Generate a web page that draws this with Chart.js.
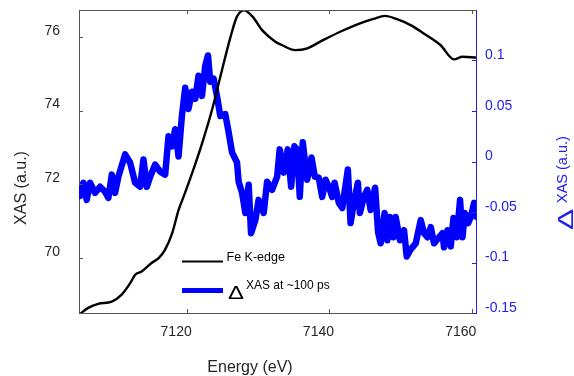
<!DOCTYPE html>
<html>
<head>
<meta charset="utf-8">
<script src="https://cdn.jsdelivr.net/npm/chart.js@4/dist/chart.umd.min.js"></script>
<style>
html,body{margin:0;padding:0;background:#fff;}
#wrap{width:574px;height:376px;position:relative;}
</style>
</head>
<body>
<div id="wrap"><canvas id="c" width="574" height="376"></canvas></div>
<script>
// Fe K-edge XAS (left axis)
const feEnergy = [7104.9,7106.1,7107.5,7109.4,7110.8,7112.0,7112.7,7113.6,7115.0,7116.0,7116.9,7117.9,7118.8,7119.5,7120.7,7122.1,7123.5,7124.9,7126.1,7127.0,7128.0,7129.2,7130.5,7132.4,7133.3,7135.2,7136.9,7138.7,7141.5,7144.3,7146.2,7147.8,7149.5,7151.4,7153.2,7155.6,7157.5,7158.7,7160.6];
const feXAS = [68.47,68.64,68.75,68.81,69.00,69.31,69.54,69.63,69.86,69.99,70.22,70.67,71.30,71.66,72.30,73.11,74.02,75.10,76.00,76.55,76.72,76.55,76.19,75.87,75.78,75.64,75.69,75.87,76.14,76.37,76.49,76.57,76.48,76.32,76.10,75.78,75.39,75.46,75.44];

// Delta XAS at ~100 ps (right axis)
const dEnergy = [7104.94,7105.41,7105.88,7106.35,7107.05,7107.76,7108.46,7108.93,7109.41,7109.87,
7110.34,7111.28,7111.98,7112.69,7113.39,7113.86,7114.34,7114.80,7115.50,7116.21,
7116.91,7117.38,7117.86,7118.32,7118.79,7119.26,7119.73,7120.19,7120.67,7121.14,
7121.60,7122.08,7122.55,7122.93,7123.25,7123.72,7124.19,7124.66,7125.36,7125.83,
7126.31,7127.01,7127.24,7127.72,7128.18,7128.65,7128.98,7129.59,7130.05,7130.76,
7131.24,7131.94,7132.65,7133.01,7133.57,7134.14,7134.62,7135.08,7135.46,7135.83,
7136.25,7136.87,7137.48,7137.94,7138.50,7138.98,7139.45,7139.91,7140.39,7140.72,
7141.32,7141.80,7142.59,7142.97,7143.43,7144.00,7144.28,7144.84,7145.32,7145.79,
7146.42,7146.84,7147.20,7147.76,7148.14,7148.51,7148.98,7149.31,7149.91,7150.48,
7150.86,7151.42,7152.13,7152.83,7153.29,7153.77,7154.24,7154.70,7155.41,7155.88,
7156.11,7156.59,7157.05,7157.43,7157.90,7158.36,7158.70,7159.03,7159.49,7159.87,
7160.33,7160.71];
const dXAS = [-0.034,-0.021,-0.038,-0.021,-0.031,-0.025,-0.030,-0.036,-0.013,-0.031,
-0.015,0.007,-0.001,-0.021,-0.025,0.002,-0.025,-0.015,-0.003,-0.010,
-0.013,0.025,0.015,0.032,0.005,0.045,0.073,0.052,0.069,0.062,
0.085,0.065,0.095,0.105,0.079,0.082,0.065,0.045,0.047,0.029,
0.009,-0.001,-0.020,-0.031,-0.051,-0.023,-0.071,-0.058,-0.038,-0.051,
-0.020,-0.028,-0.015,0.012,-0.011,0.012,-0.025,0.015,0.012,-0.035,
0.019,-0.018,0.004,-0.015,-0.016,-0.035,-0.018,-0.025,-0.035,-0.021,
-0.041,-0.046,-0.008,-0.061,-0.041,-0.021,-0.051,-0.035,-0.028,-0.048,
-0.026,-0.070,-0.081,-0.051,-0.078,-0.055,-0.075,-0.055,-0.078,-0.068,
-0.094,-0.087,-0.081,-0.058,-0.071,-0.075,-0.065,-0.081,-0.075,-0.071,
-0.085,-0.068,-0.084,-0.056,-0.075,-0.038,-0.075,-0.051,-0.061,-0.055,
-0.041,-0.055];

const xTicks = [7120, 7140, 7160];
const leftTicks = [70, 72, 74, 76];
const rightTicks = [-0.15, -0.1, -0.05, 0, 0.05, 0.1];

const FONT = "'Liberation Sans', Arial, Helvetica, sans-serif";
const AX = '#555555';
const BLUE = '#0000ff';
const RBLUE = '#2020f0';

const fePts = feEnergy.map((e, i) => ({x: e, y: feXAS[i]}));
const dPts = dEnergy.map((e, i) => ({x: e, y: dXAS[i]}));

function noPad(s) {
  s.paddingTop = 0; s.paddingBottom = 0; s.paddingLeft = 0; s.paddingRight = 0;
}

const decor = {
  id: 'decor',
  afterDraw(chart) {
    const ctx = chart.ctx;
    const a = chart.chartArea;
    const sx = chart.scales.x, sl = chart.scales.y, sr = chart.scales.y2;
    ctx.save();
    ctx.lineWidth = 1;
    // top border
    ctx.strokeStyle = AX;
    ctx.beginPath();
    ctx.moveTo(a.left, a.top + 0.5); ctx.lineTo(a.right, a.top + 0.5);
    ctx.stroke();
    // x ticks (bottom and top, inward)
    ctx.beginPath();
    xTicks.forEach(v => {
      const px = Math.round(sx.getPixelForValue(v)) + 0.5;
      ctx.moveTo(px, a.bottom); ctx.lineTo(px, a.bottom - 4);
      ctx.moveTo(px, a.top); ctx.lineTo(px, a.top + 4);
    });
    // left ticks inward
    leftTicks.forEach(v => {
      const py = Math.round(sl.getPixelForValue(v)) + 0.5;
      ctx.moveTo(a.left, py); ctx.lineTo(a.left + 4, py);
    });
    ctx.stroke();
    // right ticks inward (blue)
    ctx.strokeStyle = RBLUE;
    ctx.beginPath();
    rightTicks.forEach(v => {
      const py = Math.round(sr.getPixelForValue(v)) + 0.5;
      ctx.moveTo(a.right, py); ctx.lineTo(a.right - 4, py);
    });
    ctx.stroke();

    // axis titles
    ctx.fillStyle = '#262626';
    ctx.font = '16px ' + FONT;
    ctx.textAlign = 'center';
    ctx.textBaseline = 'alphabetic';
    ctx.fillText('Energy (eV)', 250, 372);

    ctx.save();
    ctx.translate(25.5, 188);
    ctx.rotate(-Math.PI / 2);
    ctx.fillText('XAS (a.u.)', 0, 0);
    ctx.restore();

    // right title: Δ XAS (a.u.)
    ctx.save();
    ctx.fillStyle = RBLUE;
    ctx.translate(573, 230);
    ctx.rotate(-Math.PI / 2);
    ctx.textAlign = 'left';
    ctx.save();
    ctx.scale(1.45, 1);
    ctx.font = '22px ' + FONT;
    ctx.fillText('\u0394', 0, 0);
    ctx.restore();
    ctx.font = '14.5px ' + FONT;
    ctx.fillText('XAS (a.u.)', 27, -6);
    ctx.restore();

    // legend
    ctx.lineCap = 'butt';
    ctx.strokeStyle = '#000';
    ctx.lineWidth = 2;
    ctx.beginPath(); ctx.moveTo(182, 261.5); ctx.lineTo(223, 261.5); ctx.stroke();
    ctx.strokeStyle = BLUE;
    ctx.lineWidth = 5;
    ctx.beginPath(); ctx.moveTo(182, 290.5); ctx.lineTo(223, 290.5); ctx.stroke();
    ctx.fillStyle = '#000';
    ctx.textAlign = 'left';
    ctx.font = '12.5px ' + FONT;
    ctx.fillText('Fe K-edge', 226.5, 261);
    ctx.save();
    ctx.translate(228, 299);
    ctx.scale(1.33, 1);
    ctx.font = '18px ' + FONT;
    ctx.fillText('\u0394', 0, 0);
    ctx.restore();
    ctx.font = '12px ' + FONT;
    ctx.fillText('XAS at ~100 ps', 246, 289);
    ctx.restore();
  }
};

new Chart(document.getElementById('c'), {
  type: 'line',
  data: {
    datasets: [
      {
        label: 'Fe K-edge',
        data: fePts,
        yAxisID: 'y',
        borderColor: '#000000',
        borderWidth: 2.4,
        pointRadius: 0,
        cubicInterpolationMode: 'monotone',
        order: 0
      },
      {
        label: '\u0394XAS at ~100 ps',
        data: dPts,
        yAxisID: 'y2',
        borderColor: BLUE,
        borderWidth: 6.5,
        borderJoinStyle: 'round',
        borderCapStyle: 'round',
        pointRadius: 0,
        tension: 0,
        order: 1
      }
    ]
  },
  options: {
    responsive: false,
    animation: false,
    devicePixelRatio: 1,
    layout: {padding: {top: 10, left: 0, right: 0, bottom: 0}},
    plugins: {legend: {display: false}, tooltip: {enabled: false}},
    scales: {
      x: {
        type: 'linear',
        min: 7104.8,
        max: 7160.6,
        afterBuildTicks: s => { s.ticks = xTicks.map(v => ({value: v})); },
        afterFit: s => { s.height = 63; noPad(s); },
        grid: {display: false},
        border: {display: true, color: AX, width: 1},
        ticks: {
          font: {family: FONT, size: 14},
          color: '#262626',
          padding: 3,
          labelOffset: -11,
          maxRotation: 0,
          callback: v => String(v)
        }
      },
      y: {
        position: 'left',
        min: 68.5,
        max: 76.73,
        afterBuildTicks: s => { s.ticks = leftTicks.map(v => ({value: v})); },
        afterFit: s => { s.width = 79; noPad(s); },
        grid: {display: false},
        border: {display: true, color: AX, width: 1},
        ticks: {
          font: {family: FONT, size: 14},
          color: '#262626',
          padding: 11,
          labelOffset: -6,
          callback: v => String(v)
        }
      },
      y2: {
        position: 'right',
        min: -0.15,
        max: 0.15,
        afterBuildTicks: s => { s.ticks = rightTicks.map(v => ({value: v})); },
        afterFit: s => { s.width = 98; noPad(s); },
        grid: {display: false},
        border: {display: true, color: RBLUE, width: 1},
        ticks: {
          font: {family: FONT, size: 14},
          color: RBLUE,
          padding: 1,
          labelOffset: -5,
          callback: v => String(Math.round(v * 100) / 100)
        }
      }
    }
  },
  plugins: [decor]
});
</script>
</body>
</html>
